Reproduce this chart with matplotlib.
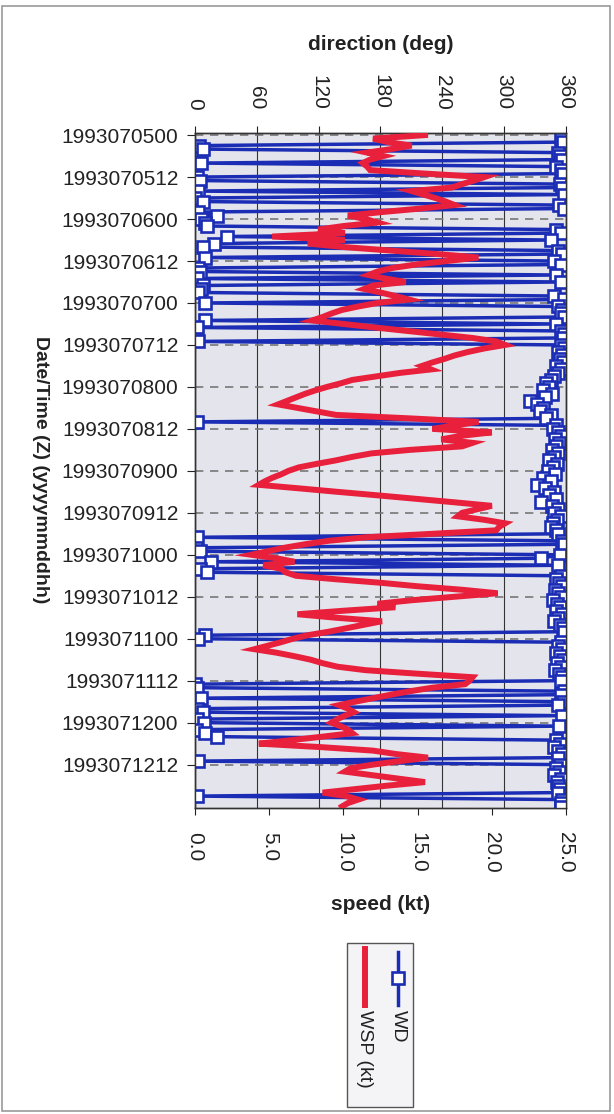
import numpy as np
import pandas as pd
import matplotlib
matplotlib.use("Agg")
from matplotlib import pyplot as plt
from matplotlib.patches import Rectangle
from matplotlib.lines import Line2D

plt.rcParams['font.family'] = ['Liberation Sans', 'DejaVu Sans']

# hourly observations, 1993-07-05 00Z .. 1993-07-13 00Z
times = pd.date_range("1993-07-05 00:00", "1993-07-13 00:00", freq="h")

# wind direction (deg)
wd = [358, 355, 357, 4, 8, 352, 354, 356, 6, 350, 355, 357, 2, 5, 354, 356,
      3, 358, 0, 8, 353, 358, 3, 21, 6, 10, 12, 350, 355, 31, 345, 18,
      8, 352, 356, 10, 348, 355, 3, 5, 350, 2, 355, 8, 6, 3, 348, 358,
      10, 352, 356, 355, 358, 10, 350, 2, 355, 358, 357, 3, 355, 358, 352, 356,
      354, 357, 350, 355, 352, 348, 345, 341, 344, 338, 346, 340, 325, 332, 338, 335,
      345, 341, 2, 350, 347, 352, 355, 349, 353, 350, 346, 352, 348, 344, 351, 347,
      343, 349, 338, 345, 332, 340, 348, 344, 350, 336, 346, 352, 348, 355, 351, 347,
      345, 350, 352, 2, 356, 358, 1, 5, 354, 336, 16, 352, 5, 12, 355, 350,
      353, 356, 349, 352, 355, 347, 351, 354, 350, 356, 352, 348, 354, 357, 358, 10,
      3, 355, 352, 356, 350, 354, 357, 351, 355, 349, 353, 356, 355, 0, 2, 358,
      355, 6, 357, 352, 2, 8, 356, 2, 9, 353, 1, 10, 21, 350, 354, 348,
      352, 356, 352, 3, 354, 350, 353, 348, 355, 351, 352, 354, 352, 2, 356, 355,
      355]

# wind speed (kt)
wsp = [15.5, 12.0, 13.0, 14.6, 13.2, 11.6, 12.7, 11.8, 11.3, 11.6, 11.8, 15.5,
       19.5, 18.8, 18.0, 17.3, 14.6, 15.4, 16.2, 16.9, 17.5, 15.2, 12.6, 10.3,
       11.5, 12.3, 10.0, 8.3, 10.1, 5.2, 10.1, 7.6, 10.0, 13.2, 16.3, 19.1,
       17.0, 14.9, 13.3, 12.3, 11.7, 12.8, 14.2, 12.0, 11.4, 12.5, 13.5, 14.4,
       12.3, 11.0, 9.9, 9.2, 8.6, 7.9, 10.0, 12.1, 14.3, 16.5, 18.7, 20.3,
       20.9, 19.5, 18.4, 17.5, 16.8, 16.0, 15.3, 15.9, 13.8, 12.2, 10.6, 9.8,
       8.9, 8.1, 7.4, 6.8, 6.2, 5.6, 6.9, 8.2, 9.5, 14.5, 19.1, 17.5,
       16.0, 20.0, 17.9, 16.6, 18.7, 18.0, 14.5, 11.9, 10.6, 9.5, 8.2, 7.0,
       6.3, 5.8, 5.2, 4.7, 4.3, 7.0, 9.6, 12.3, 14.9, 17.5, 20.0, 19.0,
       18.0, 17.7, 19.5, 20.9, 20.5, 20.3, 16.0, 11.5, 9.0, 7.4, 6.0, 4.9,
       3.8, 5.5, 6.7, 4.6, 5.8, 6.1, 6.8, 9.5, 12.5, 15.0, 18.0, 20.4,
       17.5, 14.6, 12.3, 13.5, 10.0, 6.9, 9.5, 12.6, 11.4, 10.2, 9.0, 7.6,
       6.6, 5.8, 4.9, 4.0, 5.5, 6.7, 7.8, 8.6, 9.6, 11.5, 15.0, 18.7,
       18.5, 18.2, 16.0, 14.5, 13.2, 12.0, 10.8, 9.7, 10.3, 10.7, 10.1, 9.6,
       9.2, 9.8, 10.3, 10.6, 8.6, 6.5, 4.3, 8.5, 12.0, 13.6, 15.7, 13.8,
       12.0, 10.5, 10.1, 11.9, 13.7, 15.5, 13.0, 10.8, 8.6, 10.2, 11.0, 10.3,
       9.9]

date_labels = ["1993070500", "1993070512", "1993070600", "1993070612",
               "1993070700", "1993070712", "1993070800", "1993070812",
               "1993070900", "1993070912", "1993071000", "1993071012",
               "1993071100", "1993071112", "1993071200", "1993071212"]
dir_ticks = [0, 60, 120, 180, 240, 300, 360]
spd_ticks = [0, 5, 10, 15, 20, 25]

BLUE = '#1b2db4'
RED = '#e8203c'

fig = plt.figure(figsize=(6.14, 11.14), dpi=100)
fig.patches.append(Rectangle((0.004, 0.003), 0.99, 0.992, transform=fig.transFigure,
                             fill=False, edgecolor='#9a9a9a', linewidth=1.2))

ax = fig.add_axes([0.3176, 0.2747, 0.6042, 0.6059])
ax.set_facecolor('#e4e4ec')
ax2 = ax.twiny()

row = np.arange(len(times))
labels_at = [row[times.strftime('%Y%m%d%H') == s][0] for s in date_labels]

# direction on the top axis, drawn first so the speed line sits over it
ax.plot(wd, row, color=BLUE, lw=2.5, marker='s', ms=8.5, mfc='white',
        mec=BLUE, mew=1.9, zorder=3)
ax.set_xlim(0, 360)
ax.set_ylim(192.4, -0.6)
ax.xaxis.tick_top()
ax.xaxis.set_label_position('top')
ax.set_xticks(dir_ticks)
ax.set_xticklabels([str(t) for t in dir_ticks])
ax.tick_params(axis='x', labelrotation=-90, labelsize=15, length=5, pad=12,
               colors='#222222')
ax.set_yticks(labels_at)
ax.set_yticklabels(date_labels)
ax.tick_params(axis='y', labelsize=15, length=6, pad=6, colors='#222222')
ax.grid(axis='x', color='#333333', lw=0.8, ls='-')
ax.grid(axis='y', color='#777777', lw=1.2, ls=(0, (5, 4)))
ax.set_axisbelow(True)

# speed on the bottom axis
ax2.plot(wsp, row, color=RED, lw=4.3, solid_joinstyle='miter', zorder=4)
ax2.set_xlim(0, 25)
ax2.xaxis.tick_bottom()
ax2.xaxis.set_label_position('bottom')
ax2.set_xticks(spd_ticks)
ax2.set_xticklabels([f"{t:.1f}" for t in spd_ticks])
ax2.tick_params(axis='x', labelrotation=-90, labelsize=15, length=5, pad=12,
                colors='#222222')

for a in (ax, ax2):
    for s in a.spines.values():
        s.set_color('#333333')
        s.set_linewidth(1.0)

fig.text(381 / 614, 1 - 45 / 1114, "direction (deg)", ha='center', va='center',
         fontsize=15, fontweight='bold', color='#222222')
fig.text(381 / 614, 1 - 905 / 1114, "speed (kt)", ha='center', va='center',
         fontsize=15, fontweight='bold', color='#222222')
fig.text(40 / 614, 1 - 470 / 1114, "Date/Time (Z) (yyyymmddhh)", rotation=-90,
         ha='center', va='center', fontsize=14, fontweight='bold', color='#222222')


# legend, drawn by hand because the whole chart is turned on its side
def fx(px):
    return px / 614


def fy(py):
    return 1 - py / 1114


fig.patches.append(Rectangle((fx(347), fy(1107)), fx(413) - fx(347), fy(943) - fy(1107),
                             transform=fig.transFigure, facecolor='#f4f4f6',
                             edgecolor='#555555', linewidth=1.0))
fig.lines.append(Line2D([fx(398), fx(398)], [fy(952), fy(1005)], transform=fig.transFigure,
                        color=BLUE, lw=2.5))
fig.lines.append(Line2D([fx(398)], [fy(978)], transform=fig.transFigure, marker='s',
                        ms=8.5, mfc='white', mec=BLUE, mew=1.9))
fig.lines.append(Line2D([fx(365), fx(365)], [fy(949), fy(1005)], transform=fig.transFigure,
                        color=RED, lw=4.3))
fig.text(fx(398), fy(1010), "WD", rotation=-90, ha='center', va='top', fontsize=14,
         color='#222222')
fig.text(fx(365), fy(1010), "WSP (kt)", rotation=-90, ha='center', va='top', fontsize=14,
         color='#222222')

fig.savefig("out.png", dpi=100)
plt.close(fig)
